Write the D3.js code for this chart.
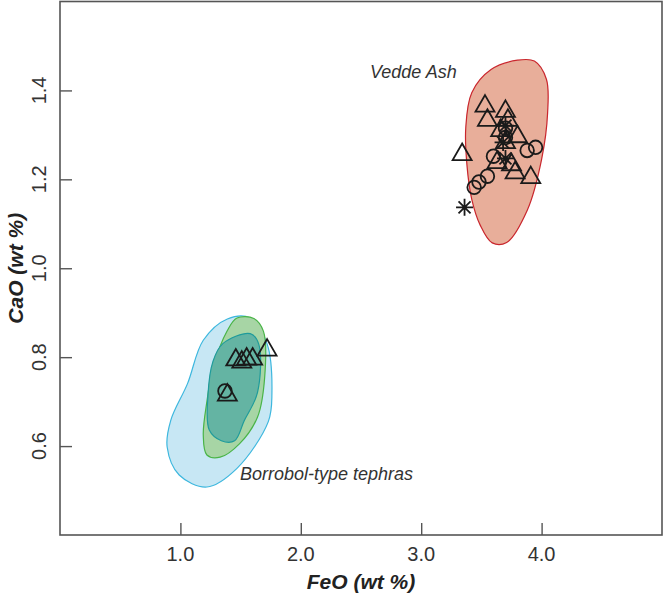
<!DOCTYPE html>
<html>
<head>
<meta charset="utf-8">
<script src="https://cdn.jsdelivr.net/npm/d3@7"></script>
<style>
  html, body { margin: 0; padding: 0; background: #fff; }
  svg { display: block; }
  text { font-family: "Liberation Sans", Arial, Helvetica, sans-serif; }
</style>
</head>
<body>
<svg id="chart" width="664" height="597"></svg>
<script>
// Axis ticks (FeO and CaO, wt %)
const xTicks = [1.0, 2.0, 3.0, 4.0];
const yTicks = [0.6, 0.8, 1.0, 1.2, 1.4];

// Envelope outlines [FeO, CaO]
const veddeEnvelope = [
  [3.80, 1.468], [3.58, 1.447], [3.42, 1.395], [3.37, 1.315], [3.38, 1.232],
  [3.42, 1.155], [3.49, 1.097], [3.59, 1.057], [3.71, 1.058], [3.88, 1.130],
  [4.00, 1.245], [4.05, 1.350], [4.04, 1.425], [3.94, 1.466]
];
const borrobolBlue = [
  [1.39, 0.886], [1.58, 0.888], [1.72, 0.830], [1.76, 0.716], [1.73, 0.655],
  [1.47, 0.550], [1.22, 0.508], [0.99, 0.535], [0.89, 0.598], [0.92, 0.658],
  [1.06, 0.741], [1.19, 0.838]
];
const borrobolGreen = [
  [1.47, 0.888], [1.61, 0.887], [1.69, 0.858], [1.70, 0.755], [1.64, 0.665],
  [1.49, 0.605], [1.33, 0.575], [1.22, 0.580], [1.19, 0.625], [1.22, 0.700],
  [1.27, 0.775], [1.39, 0.860]
];
const borrobolTeal = [
  [1.35, 0.830], [1.58, 0.853], [1.65, 0.830], [1.64, 0.720], [1.53, 0.657],
  [1.45, 0.612], [1.34, 0.612], [1.24, 0.636], [1.23, 0.718], [1.27, 0.790]
];

// Glass shard analyses [FeO, CaO]
const veddeTriangles = [
  [3.53, 1.367], [3.55, 1.335], [3.70, 1.355], [3.72, 1.335], [3.34, 1.258],
  [3.80, 1.298], [3.66, 1.312], [3.63, 1.240], [3.75, 1.235], [3.78, 1.217],
  [3.91, 1.206], [3.70, 1.285]
];
const veddeCircles = [
  [3.60, 1.252], [3.88, 1.265], [3.95, 1.272], [3.44, 1.182], [3.48, 1.194],
  [3.55, 1.207], [3.70, 1.315], [3.70, 1.294]
];
const veddeStars = [
  [3.36, 1.137], [3.70, 1.321], [3.68, 1.283], [3.70, 1.247]
];
const borrobolTriangles = [
  [1.46, 0.796], [1.51, 0.791], [1.55, 0.798], [1.60, 0.798], [1.72, 0.818],
  [1.39, 0.717]
];
const borrobolCircles = [
  [1.37, 0.724]
];

const svg = d3.select("#chart");
const x = d3.scaleLinear().domain([0, 5]).range([60, 662]);
const y = d3.scaleLinear().domain([0.4, 1.6]).range([535, 1.5]);

const outline = d3.line()
  .x(d => x(d[0])).y(d => y(d[1]))
  .curve(d3.curveCatmullRomClosed.alpha(0.5));

function envelope(data, fill, stroke) {
  svg.append("path")
    .attr("d", outline(data))
    .attr("fill", fill)
    .attr("stroke", stroke)
    .attr("stroke-width", 1.2);
}

envelope(veddeEnvelope, "#e8ae9a", "#c9262d");
envelope(borrobolBlue, "#c7e7f4", "#3db7de");
envelope(borrobolGreen, "#a7d5a5", "#49b447");
envelope(borrobolTeal, "#64b4a3", "#1f9b9b");

// Markers
const markerStroke = "#1a1a1a";
const tri = "M0,-10L9.5,6.5L-9.5,6.5Z";

function triangles(data) {
  svg.append("g").selectAll("path").data(data).join("path")
    .attr("transform", d => `translate(${x(d[0])},${y(d[1])})`)
    .attr("d", tri)
    .attr("fill", "none")
    .attr("stroke", markerStroke)
    .attr("stroke-width", 1.8);
}
function circles(data) {
  svg.append("g").selectAll("circle").data(data).join("circle")
    .attr("cx", d => x(d[0])).attr("cy", d => y(d[1]))
    .attr("r", 6.8)
    .attr("fill", "none")
    .attr("stroke", markerStroke)
    .attr("stroke-width", 1.8);
}
function stars(data) {
  const r = 8.5, q = r * 0.7071;
  svg.append("g").selectAll("path").data(data).join("path")
    .attr("transform", d => `translate(${x(d[0])},${y(d[1])})`)
    .attr("d", `M${-r},0H${r}M0,${-r}V${r}M${-q},${-q}L${q},${q}M${-q},${q}L${q},${-q}`)
    .attr("fill", "none")
    .attr("stroke", markerStroke)
    .attr("stroke-width", 1.8);
}

triangles(veddeTriangles);
circles(veddeCircles);
stars(veddeStars);
triangles(borrobolTriangles);
circles(borrobolCircles);

// Frame and inward ticks
const axisColor = "#555";
svg.append("rect")
  .attr("x", x(0)).attr("y", y(1.6))
  .attr("width", x(5) - x(0)).attr("height", y(0.4) - y(1.6))
  .attr("fill", "none").attr("stroke", axisColor).attr("stroke-width", 1.6);

const xAxis = svg.append("g")
  .attr("transform", `translate(0,${y(0.4)})`)
  .call(d3.axisTop(x).tickValues(xTicks).tickSize(12).tickFormat(""));
const yAxis = svg.append("g")
  .attr("transform", `translate(${x(0)},0)`)
  .call(d3.axisRight(y).tickValues(yTicks).tickSize(12).tickFormat(""));
[xAxis, yAxis].forEach(g => {
  g.select(".domain").remove();
  g.selectAll("line").attr("stroke", axisColor).attr("stroke-width", 1.4);
});

// Tick labels
svg.append("g").selectAll("text").data(xTicks).join("text")
  .attr("x", d => x(d)).attr("y", 561)
  .attr("text-anchor", "middle")
  .attr("font-size", 20).attr("fill", "#333")
  .text(d => d3.format(".1f")(d));
svg.append("g").selectAll("text").data(yTicks).join("text")
  .attr("transform", d => `translate(46,${y(d)}) rotate(-90)`)
  .attr("text-anchor", "middle")
  .attr("font-size", 20).attr("fill", "#333")
  .text(d => d3.format(".1f")(d));

// Axis titles
svg.append("text")
  .attr("x", (x(0) + x(5)) / 2).attr("y", 589)
  .attr("text-anchor", "middle")
  .attr("font-size", 21).attr("font-weight", "bold").attr("font-style", "italic")
  .attr("fill", "#222")
  .text("FeO (wt %)");
svg.append("text")
  .attr("transform", `translate(23,${(y(0.4) + y(1.6)) / 2}) rotate(-90)`)
  .attr("text-anchor", "middle")
  .attr("font-size", 21).attr("font-weight", "bold").attr("font-style", "italic")
  .attr("fill", "#222")
  .text("CaO (wt %)");

// Group labels
svg.append("text")
  .attr("x", 370).attr("y", 78)
  .attr("font-size", 18).attr("font-style", "italic").attr("fill", "#333")
  .text("Vedde Ash");
svg.append("text")
  .attr("x", 240).attr("y", 480)
  .attr("font-size", 18).attr("font-style", "italic").attr("fill", "#333")
  .text("Borrobol-type tephras");
</script>
</body>
</html>
